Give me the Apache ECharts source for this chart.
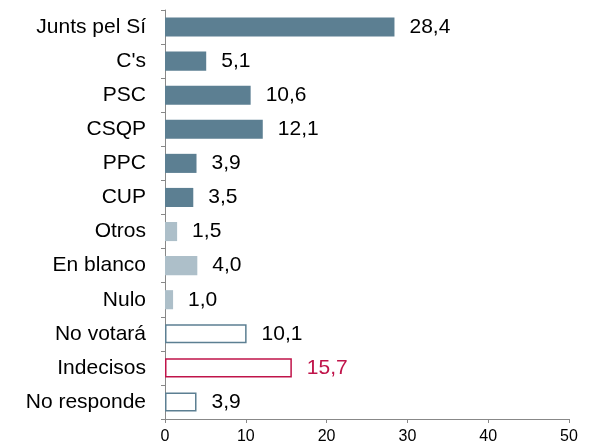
<!DOCTYPE html>
<html><head><meta charset="utf-8">
<script src="https://cdn.jsdelivr.net/npm/echarts@6/dist/echarts.min.js"></script>
<style>html,body{margin:0;padding:0;background:#fff}#c{width:589px;height:445px}</style>
</head><body><div id="c"></div>
<script>
const categories = ["Junts pel Sí","C's","PSC","CSQP","PPC","CUP","Otros","En blanco","Nulo","No votará","Indecisos","No responde"];
const values = [28.4,5.1,10.6,12.1,3.9,3.5,1.5,4.0,1.0,10.1,15.7,3.9];
const kinds = ["party","party","party","party","party","party","light","light","light","outline","accent","outline"];
const xTicks = [0,10,20,30,40,50];

const styles = {
  party:{color:'#5C7F92',borderColor:'#5C7F92',borderWidth:0,label:'#000'},
  light:{color:'#ADBFC9',borderColor:'#ADBFC9',borderWidth:0,label:'#000'},
  outline:{color:'#fff',borderColor:'#5C7F92',borderWidth:1.5,label:'#000'},
  accent:{color:'#fff',borderColor:'#C0144A',borderWidth:1.5,label:'#C0144A'}
};
const data = values.map((v,i)=>{
  const s = styles[kinds[i]];
  return {value:v,itemStyle:{color:s.color,borderColor:s.borderColor,borderWidth:s.borderWidth},
    label:{color:s.label}};
});
const chart = echarts.init(document.getElementById('c'));
chart.setOption({
  animation:false,
  grid:{left:165,right:20,top:10,bottom:26,containLabel:false},
  xAxis:{type:'value',min:xTicks[0],max:xTicks[xTicks.length-1],interval:10,
    axisLine:{show:true,lineStyle:{color:'#888',width:1}},
    axisTick:{show:true,length:4,inside:false,lineStyle:{color:'#888'}},
    splitLine:{show:false},
    axisLabel:{color:'#000',fontFamily:'Liberation Sans, Arial',fontSize:16,margin:10}},
  yAxis:{type:'category',data:categories,inverse:true,
    axisLine:{show:true,lineStyle:{color:'#888',width:1}},
    axisTick:{show:true,length:4,lineStyle:{color:'#888'}},
    axisLabel:{color:'#000',fontFamily:'Liberation Sans, Arial',fontSize:21,margin:19}},
  series:[{type:'bar',data:data,barCategoryGap:'44%',
    label:{show:true,position:'right',distance:15,fontFamily:'Liberation Sans, Arial',fontSize:21,
      formatter:p=>p.value.toFixed(1).replace('.',',')}}]
});
</script></body></html>
